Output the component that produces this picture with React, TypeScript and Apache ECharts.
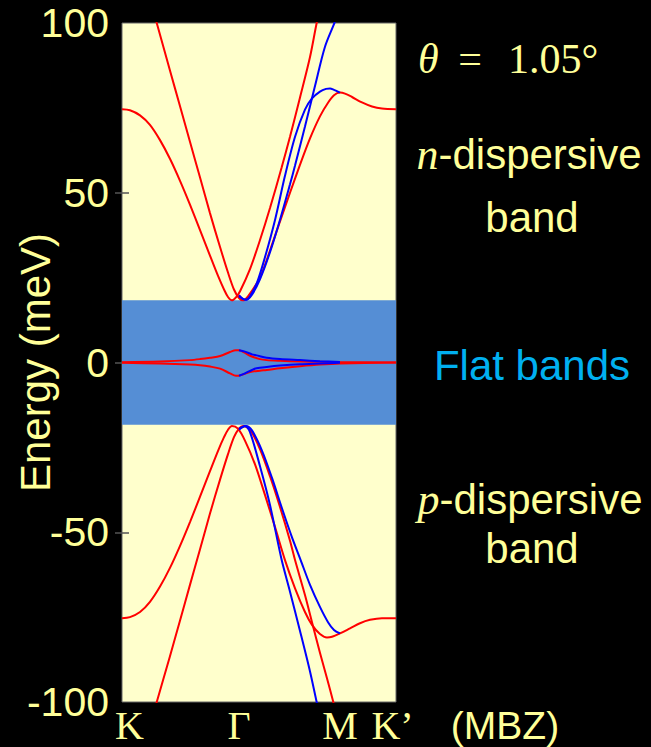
import React, { useEffect, useRef } from "react";
import * as echarts from "echarts";

// k-path coordinate: K = 0, Γ = 1, M = 1.863, K' = 2.342 ; energies in meV
const kTicks = [0, 1, 1.863, 2.342];
const kLabels = ["K", "Γ", "M", "K’"];
const innerTicks = [1, 1.863];
const flatBandEdges = [-18.3, 18.3];

const redUp1 = [[0,74.6],[0.068,74.3],[0.154,72.8],[0.239,70],[0.325,65.5],[0.41,60],[0.496,53.5],[0.581,46.5],[0.667,39],[0.752,31.5],[0.821,25.5],[0.872,21.5],[0.906,19.3],[0.94,18.3],[0.974,19.2],[1.009,21],[1.094,27.5],[1.179,36],[1.265,45.5],[1.365,57.5],[1.436,66.5],[1.521,78],[1.607,90],[1.664,100],[1.692,104]];
const redUp2 = [[0.28,102],[0.297,100],[0.41,86],[0.496,75.5],[0.581,65],[0.667,54.5],[0.752,44],[0.838,34],[0.906,26.5],[0.957,21.5],[1.0,19],[1.034,18.3],[1.077,19.5],[1.179,25],[1.265,33],[1.35,41.5],[1.436,50],[1.521,58.2],[1.607,66],[1.692,72.5],[1.761,76.5],[1.812,78.7],[1.863,79.5],[1.906,79.2],[1.966,78.2],[2.051,76.6],[2.137,75.4],[2.222,74.8],[2.342,74.6]];
const blueUp1 = [[1.0,19.5],[1.06,18.5],[1.111,20],[1.179,24.5],[1.265,32.5],[1.35,42],[1.436,52.5],[1.479,58],[1.564,69.5],[1.65,81.5],[1.735,93],[1.821,100.5],[1.84,103]];
const blueUp2 = [[1.0,19.8],[1.034,18.7],[1.06,18.5],[1.094,19.5],[1.154,23.5],[1.222,31],[1.308,42],[1.393,55],[1.479,66.5],[1.564,74.5],[1.624,77.8],[1.692,79.8],[1.744,80.6],[1.778,80.7],[1.812,80.3],[1.846,79.8],[1.863,79.5]];

const redDn1 = [[0,-75.3],[0.068,-75],[0.154,-73.5],[0.239,-70.5],[0.325,-66],[0.41,-60.5],[0.496,-54],[0.581,-47],[0.667,-39.5],[0.752,-32],[0.821,-26],[0.872,-22],[0.906,-19.8],[0.94,-18.7],[0.991,-19.5],[1.051,-23],[1.137,-30],[1.222,-39],[1.308,-48.5],[1.393,-58.2],[1.479,-66.5],[1.564,-73.5],[1.624,-77.3],[1.692,-80],[1.752,-81],[1.795,-80.8],[1.863,-79.8],[1.949,-78.3],[2.034,-76.8],[2.12,-75.8],[2.222,-75.3],[2.342,-75.3]];
const redDn2 = [[0.28,-102],[0.297,-100],[0.41,-86.5],[0.496,-76],[0.581,-65.5],[0.667,-55],[0.752,-44.5],[0.838,-34.5],[0.906,-27],[0.957,-22],[1.0,-19.5],[1.034,-18.7],[1.094,-19.8],[1.179,-25.5],[1.265,-33.5],[1.35,-42.5],[1.436,-52.5],[1.479,-58.2],[1.564,-68.5],[1.624,-76.5],[1.692,-85.5],[1.752,-93],[1.806,-100],[1.829,-103]];
const blueDn1 = [[1.0,-19.8],[1.051,-18.7],[1.094,-20.5],[1.179,-30.5],[1.265,-42],[1.365,-58.2],[1.436,-67.5],[1.521,-79],[1.607,-91],[1.664,-100],[1.684,-103]];
const blueDn2 = [[1.0,-19.5],[1.06,-18.7],[1.111,-20],[1.197,-26],[1.282,-34],[1.368,-43],[1.453,-51.5],[1.527,-58.2],[1.607,-65.5],[1.692,-72],[1.761,-76.5],[1.812,-78.8],[1.863,-79.8]];

const redFlatUp = [[0,0.1],[0.325,0.3],[0.581,0.7],[0.667,1.0],[0.752,1.4],[0.838,1.9],[0.923,3.1],[0.974,3.6],[1.0,3.6],[1.043,3.0],[1.094,2.0],[1.179,1.0],[1.237,0.7],[1.35,0.5],[1.521,0.3],[1.692,0.2],[1.863,0.1],[2.342,0]];
const redFlatDn = [[0,-0.1],[0.325,-0.3],[0.581,-0.6],[0.667,-0.8],[0.752,-1.2],[0.838,-1.8],[0.923,-3.2],[0.974,-3.9],[1.0,-3.9],[1.043,-3.4],[1.094,-2.8],[1.179,-2.4],[1.237,-2.2],[1.35,-1.7],[1.521,-1.1],[1.692,-0.6],[1.863,-0.3],[2.342,0]];
const blueFlatUp = [[1.0,3.6],[1.051,3.2],[1.111,2.4],[1.15,2.1],[1.237,1.4],[1.35,1.0],[1.521,0.7],[1.692,0.4],[1.863,0.15]];
const blueFlatDn = [[1.0,-3.9],[1.051,-3.2],[1.111,-2.2],[1.15,-1.7],[1.237,-1.3],[1.35,-0.9],[1.521,-0.5],[1.692,-0.3],[1.863,-0.1]];

const redCurves = [redUp1, redUp2, redDn1, redDn2, redFlatUp, redFlatDn];
const blueCurves = [blueUp1, blueUp2, blueDn1, blueDn2, blueFlatUp, blueFlatDn];

const YEL = "#FFFF99";
const SANS = "Liberation Sans, Arial, sans-serif";
const SERIF = "Liberation Serif, Times New Roman, serif";

export default function App() {
  const ref = useRef<HTMLDivElement>(null);
  useEffect(() => {
    const chart = echarts.init(ref.current!, null, { renderer: "svg" });
    const lineSeries = (data: number[][], color: string) => ({
      type: "line",
      data,
      showSymbol: false,
      symbol: "none",
      smooth: 0.3,
      clip: true,
      z: 3,
      lineStyle: { color, width: 2 },
    });
    const tickStyle = { show: true, inside: true, length: 7, lineStyle: { color: "#555", width: 1.5 } };
    chart.setOption({
      animation: false,
      backgroundColor: "#000",
      grid: { left: 122, right: 255, top: 23, bottom: 45, outerBoundsMode: "none", containLabel: false, show: true, backgroundColor: "#FFFFCC", borderColor: "#666", borderWidth: 1 },
      xAxis: [
        {
          type: "value", min: 0, max: 2.342, position: "bottom",
          axisLine: { show: false }, splitLine: { show: false },
          axisTick: { ...tickStyle, customValues: innerTicks },
          axisLabel: {
            customValues: kTicks, margin: 6,
            formatter: (v: number) => {
              const i = kTicks.findIndex((t) => Math.abs(t - v) < 1e-6);
              if (i === 0) return "{l|" + kLabels[i] + "}";
              if (i === kTicks.length - 1) return "{r|" + kLabels[i] + "}";
              return "{c|" + kLabels[i] + "}";
            },
            rich: {
              l: { fontFamily: SERIF, fontSize: 40, lineHeight: 34, color: YEL, padding: [0, 0, 0, 15] },
              r: { fontFamily: SERIF, fontSize: 40, lineHeight: 34, color: YEL, padding: [0, 7, 0, 0] },
              c: { fontFamily: SERIF, fontSize: 40, lineHeight: 34, color: YEL },
            },
          },
        },
        {
          type: "value", min: 0, max: 2.342, position: "top",
          axisLine: { show: false }, splitLine: { show: false }, axisLabel: { show: false },
          axisTick: { ...tickStyle, customValues: innerTicks },
        },
      ],
      yAxis: [
        {
          type: "value", min: -100, max: 100, interval: 50, position: "left",
          name: "Energy (meV)", nameLocation: "middle", nameGap: 66, nameMoveOverlap: false,
          nameTextStyle: { color: YEL, fontFamily: SANS, fontSize: 42 },
          axisLine: { show: false }, splitLine: { show: false },
          axisTick: { ...tickStyle, customValues: [-50, 0, 50] },
          axisLabel: { color: YEL, fontFamily: SANS, fontSize: 41, margin: 13 },
        },
        {
          type: "value", min: -100, max: 100, interval: 50, position: "right",
          axisLine: { show: false }, splitLine: { show: false }, axisLabel: { show: false },
          axisTick: { ...tickStyle, customValues: [-50, 0, 50] },
        },
      ],
      series: [
        {
          type: "line", data: [], symbol: "none", z: 1,
          markArea: {
            silent: true,
            itemStyle: { color: "#558ED5", opacity: 1 },
            data: [[{ yAxis: flatBandEdges[0] }, { yAxis: flatBandEdges[1] }]],
          },
        },
        ...redCurves.map((c) => lineSeries(c, "#FF0000")),
        ...blueCurves.map((c) => lineSeries(c, "#0000FF")),
      ],
      graphic: [
        { type: "text", x: 418, y: 59, style: { text: "θ", fill: YEL, fontFamily: SERIF, fontStyle: "italic", fontSize: 42, verticalAlign: "middle", align: "left" } },
        { type: "text", x: 470, y: 59, style: { text: "=", fill: YEL, fontFamily: SERIF, fontSize: 42, verticalAlign: "middle", align: "center" } },
        { type: "text", x: 508, y: 59, style: { text: "1.05°", fill: YEL, fontFamily: SERIF, fontSize: 42, verticalAlign: "middle", align: "left" } },
        {
          type: "text", x: 529, y: 154,
          style: {
            text: "{i|n}{s|-dispersive}", align: "center", verticalAlign: "middle",
            rich: { i: { fontFamily: SERIF, fontStyle: "italic", fontSize: 44, fill: YEL }, s: { fontFamily: SANS, fontSize: 42, fill: YEL } },
          },
        },
        { type: "text", x: 532, y: 217, style: { text: "band", fill: YEL, fontFamily: SANS, fontSize: 42, align: "center", verticalAlign: "middle" } },
        { type: "text", x: 532, y: 365, style: { text: "Flat bands", fill: "#00B0F0", fontFamily: SANS, fontSize: 42, align: "center", verticalAlign: "middle" } },
        {
          type: "text", x: 530, y: 499,
          style: {
            text: "{i|p}{s|-dispersive}", align: "center", verticalAlign: "middle",
            rich: { i: { fontFamily: SERIF, fontStyle: "italic", fontSize: 44, fill: YEL }, s: { fontFamily: SANS, fontSize: 42, fill: YEL } },
          },
        },
        { type: "text", x: 532, y: 548, style: { text: "band", fill: YEL, fontFamily: SANS, fontSize: 42, align: "center", verticalAlign: "middle" } },
        { type: "text", x: 505, y: 725, style: { text: "(MBZ)", fill: YEL, fontFamily: SANS, fontSize: 39, lineHeight: 34, align: "center", verticalAlign: "middle" } },
      ],
    });
    return () => chart.dispose();
  }, []);
  return <div ref={ref} style={{ position: "absolute", left: 0, top: 0, width: 651, height: 747, background: "#000" }} />;
}
